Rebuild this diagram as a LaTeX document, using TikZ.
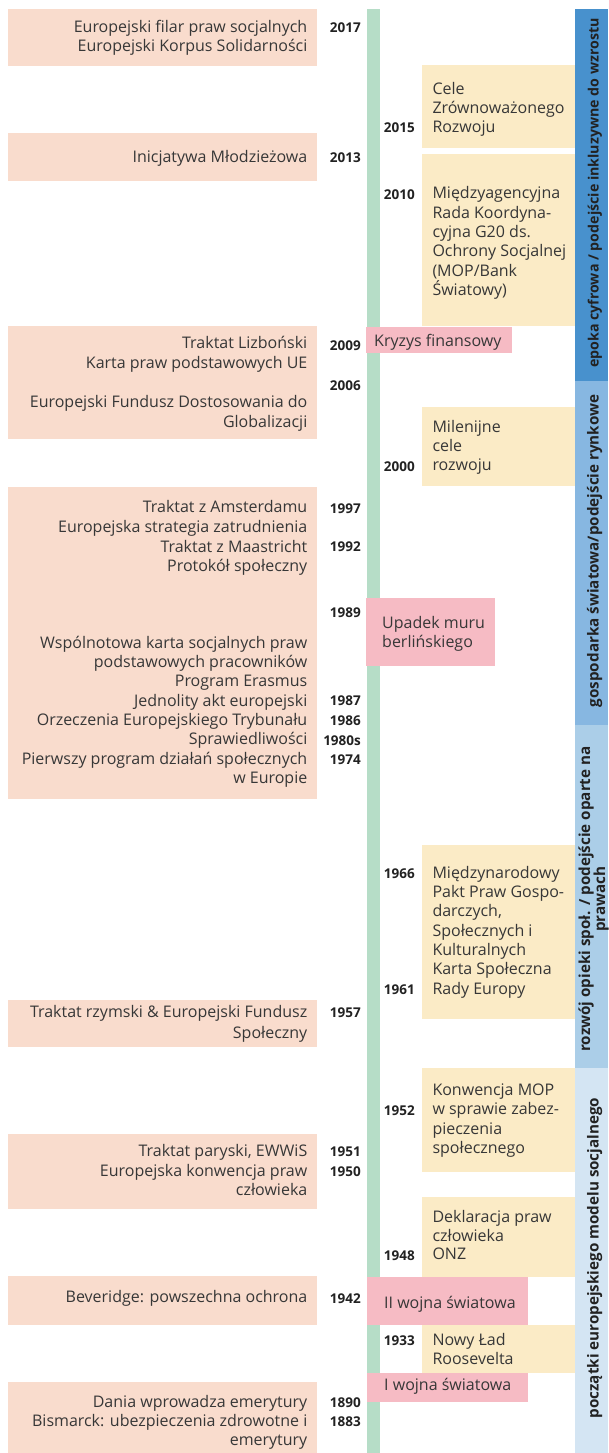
\documentclass[tikz,border=0pt]{standalone}
\usepackage{fontspec}
\setmainfont{Open Sans}
\usetikzlibrary{fit}
\definecolor{pinkc}{RGB}{249,220,205}
\definecolor{yellowc}{RGB}{251,235,198}
\definecolor{redc}{RGB}{246,187,196}
\definecolor{greenc}{RGB}{182,221,199}
\definecolor{blueA}{RGB}{72,145,205}
\definecolor{blueB}{RGB}{135,183,225}
\definecolor{blueC}{RGB}{171,206,232}
\definecolor{blueD}{RGB}{212,229,243}
\definecolor{txt}{RGB}{55,55,55}
\definecolor{yrc}{RGB}{34,34,34}
\begin{document}
\begin{tikzpicture}[x=1pt,y=-1pt,
  area/.style={inner sep=0pt, outer sep=0pt, draw=none},
  pinkbox/.style={area, fill=pinkc},
  yellowbox/.style={area, fill=yellowc},
  redbox/.style={area, fill=redc},
  greenbar/.style={area, fill=greenc},
  erabar/.style={area, fill=#1},
  lt/.style={anchor=base east, inner sep=0pt, text=txt, font=\fontsize{16}{19}\selectfont},
  rt/.style={anchor=base west, inner sep=0pt, text=txt, font=\fontsize{16}{19}\selectfont},
  yr/.style={anchor=base east, inner sep=0pt, text=yrc, font=\fontsize{13.5}{16}\selectfont\bfseries},
  eralabel/.style={rotate=90, anchor=base, inner sep=0pt, text=yrc, font=\fontsize{15.2}{15}\selectfont\bfseries}
]
\useasboundingbox (0,0) rectangle (608,1453);
\fill[white] (0,0) rectangle (608,1453);

% timeline
\node[greenbar, fit={(366.8,9) (380,1453)}] (line) {};

% era bar
\node[erabar=blueA, fit={(574.6,9) (608,381)}] (eraA) {};
\node[erabar=blueB, fit={(574.6,381) (608,724.5)}] (eraB) {};
\node[erabar=blueC, fit={(574.6,724.5) (608,1067.5)}] (eraC) {};
\node[erabar=blueD, fit={(574.6,1067.5) (608,1453)}] (eraD) {};
\node[eralabel, font=\fontsize{14.2}{15}\selectfont\bfseries] (eraAt) at (598.5,193) {epoka cyfrowa / podejście inkluzywne do wzrostu};
\node[eralabel] (eraBt) at (598.5,551) {gospodarka światowa/podejście rynkowe};
\node[eralabel] (eraCt1) at (590,899) {rozwój opieki społ. / podejście oparte na};
\node[eralabel] (eraCt2) at (605,899) {prawach};
\node[eralabel] (eraDt) at (598.5,1258) {początki europejskiego modelu socjalnego};

% left (pink) boxes
\node[pinkbox, fit={(8,9) (317,65.7)}] (p1) {};
\node[pinkbox, fit={(8,132.7) (317,181)}] (p2) {};
\node[pinkbox, fit={(8,326) (317,439)}] (p3) {};
\node[pinkbox, fit={(8,486.7) (317,799.3)}] (p4) {};
\node[pinkbox, fit={(8,1000) (317,1046.7)}] (p5) {};
\node[pinkbox, fit={(8,1134) (317,1209.3)}] (p6) {};
\node[pinkbox, fit={(8,1276) (317,1324.7)}] (p7) {};
\node[pinkbox, fit={(8,1381.7) (317,1453)}] (p8) {};

% right (yellow) boxes
\node[yellowbox, fit={(421.5,65) (574.6,147.7)}] (y1) {};
\node[yellowbox, fit={(421.5,153.7) (574.6,326.3)}] (y2) {};
\node[yellowbox, fit={(421.5,407.3) (574.6,486)}] (y3) {};
\node[yellowbox, fit={(421.5,845) (574.6,1019)}] (y4) {};
\node[yellowbox, fit={(421.5,1068.3) (574.6,1171.7)}] (y5) {};
\node[yellowbox, fit={(421.5,1197.3) (574.6,1276.7)}] (y6) {};
\node[yellowbox, fit={(421.5,1325) (574.6,1373.3)}] (y7) {};

% events (red boxes)
\node[redbox, fit={(366,326.5) (511.7,353.3)}] (r1) {};
\node[redbox, fit={(366,598) (495,665.7)}] (r2) {};
\node[redbox, fit={(367,1276.7) (528,1324.7)}] (r3) {};
\node[redbox, fit={(367,1373.3) (528,1401.7)}] (r4) {};

% left texts
\node[lt] (t1a) at (307.5,32.3) {Europejski filar praw socjalnych};
\node[lt] (t1b) at (307.5,51.3) {Europejski Korpus Solidarności};
\node[lt] (t2a) at (307.5,162.3) {Inicjatywa Młodzieżowa};
\node[lt] (t3a) at (307.5,348.9) {Traktat Lizboński};
\node[lt] (t3b) at (307.5,368.6) {Karta praw podstawowych UE};
\node[lt] (t3c) at (307.5,407.9) {Europejski Fundusz Dostosowania do};
\node[lt] (t3d) at (307.5,427.3) {Globalizacji};
\node[lt] (t4a) at (307.5,512.9) {Traktat z Amsterdamu};
\node[lt] (t4b) at (307.5,532.3) {Europejska strategia zatrudnienia};
\node[lt] (t4c) at (307.5,552.0) {Traktat z Maastricht};
\node[lt] (t4d) at (307.5,571.4) {Protokół społeczny};
\node[lt] (t4e) at (307.5,648.3) {Wspólnotowa karta socjalnych praw};
\node[lt] (t4f) at (307.5,667.5) {podstawowych pracowników};
\node[lt] (t4g) at (307.5,686.8) {Program Erasmus};
\node[lt] (t4h) at (307.5,706.1) {Jednolity akt europejski};
\node[lt] (t4i) at (307.5,725.4) {Orzeczenia Europejskiego Trybunału};
\node[lt] (t4j) at (307.5,744.7) {Sprawiedliwości};
\node[lt] (t4k) at (307.5,764.0) {Pierwszy program działań społecznych};
\node[lt] (t4l) at (307.5,783.2) {w Europie};
\node[lt] (t5a) at (307.5,1017.3) {Traktat rzymski \& Europejski Fundusz};
\node[lt] (t5b) at (307.5,1038.9) {Społeczny};
\node[lt] (t6a) at (307.5,1156.6) {Traktat paryski, EWWiS};
\node[lt] (t6b) at (307.5,1176.0) {Europejska konwencja praw};
\node[lt] (t6c) at (307.5,1195.0) {człowieka};
\node[lt] (t7a) at (307.5,1302.3) {Beveridge: powszechna ochrona};
\node[lt] (t8a) at (307.5,1407.3) {Dania wprowadza emerytury};
\node[lt] (t8b) at (307.5,1426.6) {Bismarck: ubezpieczenia zdrowotne i};
\node[lt] (t8c) at (307.5,1445.8) {emerytury};

% left years
\node[yr] (d2017) at (361,32.2) {2017};
\node[yr] (d2013) at (361,162.7) {2013};
\node[yr] (d2009) at (361,350.2) {2009};
\node[yr] (d2006) at (361,390.7) {2006};
\node[yr] (d1997) at (361,513.3) {1997};
\node[yr] (d1992) at (361,551.0) {1992};
\node[yr] (d1989) at (361,617.3) {1989};
\node[yr] (d1987) at (361,705.0) {1987};
\node[yr] (d1986) at (361,725.7) {1986};
\node[yr] (d1980) at (361,745.0) {1980s};
\node[yr] (d1974) at (361,764.3) {1974};
\node[yr] (d1957) at (361,1017.3) {1957};
\node[yr] (d1951) at (361,1156.7) {1951};
\node[yr] (d1950) at (361,1176.7) {1950};
\node[yr] (d1942) at (361,1303.3) {1942};
\node[yr] (d1890) at (361,1407.3) {1890};
\node[yr] (d1883) at (361,1426.7) {1883};

% right years
\node[yr] (d2015) at (415,132.2) {2015};
\node[yr] (d2010) at (415,199.0) {2010};
\node[yr] (d2000) at (415,471.7) {2000};
\node[yr] (d1966) at (415,878.3) {1966};
\node[yr] (d1961) at (415,994.3) {1961};
\node[yr] (d1952) at (415,1115.0) {1952};
\node[yr] (d1948) at (415,1260.0) {1948};
\node[yr] (d1933) at (415,1345.3) {1933};

% right texts
\node[rt] (u1a) at (432.3,94.9) {Cele};
\node[rt] (u1b) at (432.3,113.6) {Zrównoważonego};
\node[rt] (u1c) at (432.3,132.6) {Rozwoju};
\node[rt] (u2a) at (432.3,198.9) {Międzyagencyjna};
\node[rt] (u2b) at (432.3,218.2) {Rada Koordyna-};
\node[rt] (u2c) at (432.3,237.5) {cyjna G20 ds.};
\node[rt] (u2d) at (432.3,256.8) {Ochrony Socjalnej};
\node[rt] (u2e) at (432.3,276.1) {(MOP/Bank};
\node[rt] (u2f) at (432.3,295.4) {Światowy)};
\node[rt] (u3a) at (432.3,432.3) {Milenijne};
\node[rt] (u3b) at (432.3,451.5) {cele};
\node[rt] (u3c) at (432.3,470.8) {rozwoju};
\node[rt] (u4a) at (432.3,878.3) {Międzynarodowy};
\node[rt] (u4b) at (432.3,897.6) {Pakt Praw Gospo-};
\node[rt] (u4c) at (432.3,916.9) {darczych,};
\node[rt] (u4d) at (432.3,936.2) {Społecznych i};
\node[rt] (u4e) at (432.3,955.5) {Kulturalnych};
\node[rt] (u4f) at (432.3,974.8) {Karta Społeczna};
\node[rt] (u4g) at (432.3,994.1) {Rady Europy};
\node[rt] (u5a) at (432.3,1095.6) {Konwencja MOP};
\node[rt] (u5b) at (432.3,1114.9) {w sprawie zabez-};
\node[rt] (u5c) at (432.3,1134.0) {pieczenia};
\node[rt] (u5d) at (432.3,1153.1) {społecznego};
\node[rt] (u6a) at (432.3,1222.3) {Deklaracja praw};
\node[rt] (u6b) at (432.3,1241.3) {człowieka};
\node[rt] (u6c) at (432.3,1259.6) {ONZ};
\node[rt] (u7a) at (432.3,1345.6) {Nowy Ład};
\node[rt] (u7b) at (432.3,1364.9) {Roosevelta};

% event texts
\node[rt] (e1) at (374,346.7) {Kryzys finansowy};
\node[rt] (e2a) at (382,628.3) {Upadek muru};
\node[rt] (e2b) at (382,647.3) {berlińskiego};
\node[rt] (e3) at (384,1308.3) {II wojna światowa};
\node[rt] (e4) at (384,1390.6) {I wojna światowa};
\end{tikzpicture}
\end{document}
